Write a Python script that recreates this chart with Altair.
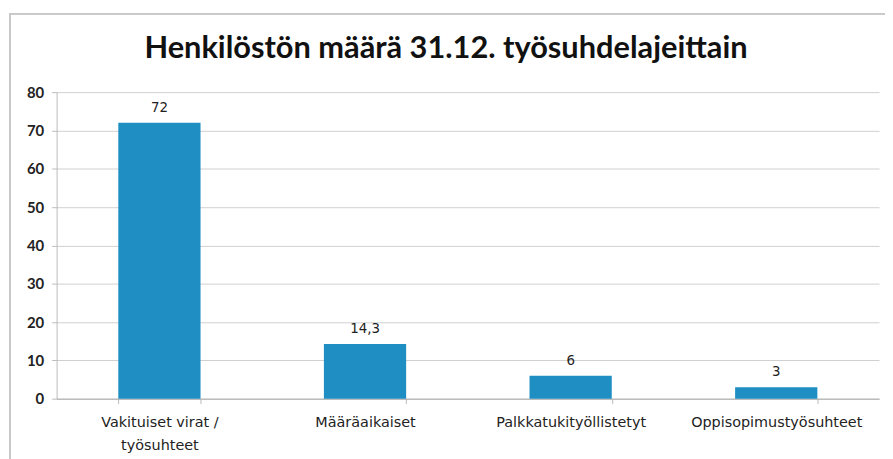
import altair as alt
import pandas as pd

categories = ["Vakituiset virat / työsuhteet", "Määräaikaiset", "Palkkatukityöllistetyt", "Oppisopimustyösuhteet"]
values = [72, 14.3, 6, 3]
value_labels = ["72", "14,3", "6", "3"]
y_ticks = [0, 10, 20, 30, 40, 50, 60, 70, 80]

df = pd.DataFrame({"cat": categories, "val": values, "lab": value_labels})

FONT = "Lato"
XFONT = "DejaVu Sans"

x = alt.X("cat:N", sort=categories, title=None,
          scale=alt.Scale(paddingInner=0.6, paddingOuter=0.3),
          axis=alt.Axis(labelAngle=0, labelFont=XFONT, labelFontSize=14.5, labelColor="#222",
                        labelPadding=12, tickBand="extent", tickSize=5, tickColor="#bbb",
                        domainColor="#aaa", labelLimit=300, labelLineHeight=23,
                        labelExpr="datum.label == 'Vakituiset virat / työsuhteet' ? ['Vakituiset virat /', 'työsuhteet'] : datum.label"))
y = alt.Y("val:Q", title=None,
          scale=alt.Scale(domain=[0, 80], nice=False),
          axis=alt.Axis(values=y_ticks, tickCount=20, labelOverlap=False, labelFont=FONT, labelFontSize=15,
                        labelFontWeight="bold", labelColor="#222", labelPadding=8,
                        tickSize=5, tickColor="#bbb", domainColor="#bbb",
                        gridColor="#cfcfcf", labelAlign="right"))

bars = alt.Chart(df).mark_bar(color="#1f8ec2").encode(x=x, y=y)
text = alt.Chart(df).mark_text(dy=-15, font=XFONT, fontSize=13.5, color="#222").encode(
    x=x, y=y, text="lab:N")
frame = alt.Chart(df).mark_rect(fill=None, stroke="#c8c8c8", strokeWidth=1.5).encode(
    x=alt.value(-47), x2=alt.value(900), y=alt.value(-79), y2=alt.value(500))

chart = (frame + bars + text).properties(
    width=829, height=309,
    title=alt.TitleParams("Henkilöstön määrä 31.12. työsuhdelajeittain", font=FONT, fontSize=31,
                          fontWeight="bold", color="#111", offset=-52, anchor="middle", dx=-22,
                          frame="group"),
    padding={"left": 49, "top": 83, "right": 6, "bottom": 60},
    autosize=alt.AutoSizeParams(type="none"),
).configure_view(stroke=None)

chart.save("out.html", embed_options={"renderer": "svg", "actions": False})
